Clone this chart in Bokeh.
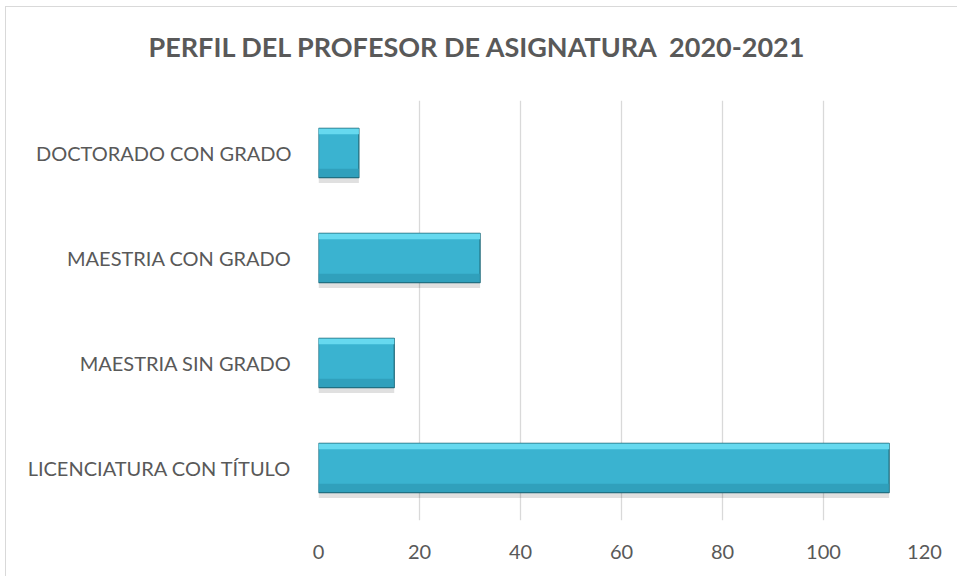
from bokeh.plotting import figure
from bokeh.models import FactorRange, Range1d, FixedTicker, ColumnDataSource, Title
from bokeh.transform import dodge
from bokeh.embed import file_html
from bokeh.resources import INLINE

categories = ["LICENCIATURA CON TÍTULO", "MAESTRIA SIN GRADO", "MAESTRIA CON GRADO", "DOCTORADO CON GRADO"]
values = [113, 15, 32, 8]
x_ticks = [0, 20, 40, 60, 80, 100, 120]
title_text = "PERFIL DEL PROFESOR DE ASIGNATURA \u00a02020-2021"

FONT = "Lato"
GREY = "#595959"

src = ColumnDataSource(dict(cat=categories, val=values, zero=[0] * len(values)))

p = figure(width=952, height=570, output_backend="svg", toolbar_location=None,
           y_range=FactorRange(*categories, range_padding=0), x_range=Range1d(0, 120),
           min_border_left=312, min_border_right=34, min_border_top=93, min_border_bottom=57)
p.styles = {"border-left": "1px solid #d9d9d9", "border-top": "1px solid #d9d9d9",
            "margin-left": "5px", "margin-top": "6px"}
p.outline_line_color = None
p.background_fill_color = "white"
p.border_fill_color = "white"

# real title (outermost panel)
p.title.text = title_text
p.title.align = "left"
p.title.offset = -170
p.title.vertical_align = "top"
p.title.standoff = 45
p.title.text_font = FONT
p.title.text_font_style = "bold"
p.title.text_font_size = "27px"
p.title.text_color = GREY

# invisible spacer panel between the title and the plot area
p.add_layout(Title(text="\u00a0", text_font_size="1px", text_color="white", standoff=10), "above")

# shadow
p.hbar(y=dodge("cat", -0.05, range=p.y_range), left="zero", right="val", height=0.47,
       source=src, fill_color="#000000", fill_alpha=0.12, line_color=None)
# base bar
p.hbar(y="cat", left="zero", right="val", height=0.47, source=src,
       fill_color="#3ab3d0", line_color="#1d6676", line_width=1.2)
# top bevel highlight
p.hbar(y=dodge("cat", 0.205, range=p.y_range), left="zero", right="val", height=0.055,
       source=src, fill_color="#66d9ef", line_color=None)
# lower darker band
p.hbar(y=dodge("cat", -0.19, range=p.y_range), left="zero", right="val", height=0.08,
       source=src, fill_color="#2e9bb7", line_color=None, fill_alpha=0.8)

p.xaxis.ticker = FixedTicker(ticks=x_ticks)
p.xgrid.ticker = FixedTicker(ticks=x_ticks)
p.xgrid.grid_line_color = "#d9d9d9"
p.xgrid.grid_line_width = 1.3
p.ygrid.grid_line_color = None

for ax in (p.xaxis, p.yaxis):
    ax.axis_line_color = None
    ax.major_tick_line_color = None
    ax.minor_tick_line_color = None
    ax.major_label_text_color = GREY
    ax.major_label_text_font = FONT
    ax.major_label_text_font_size = "20px"
p.xaxis.major_label_standoff = 18
p.yaxis.major_label_standoff = 21

open("out.html", "w").write(file_html(p, INLINE))
